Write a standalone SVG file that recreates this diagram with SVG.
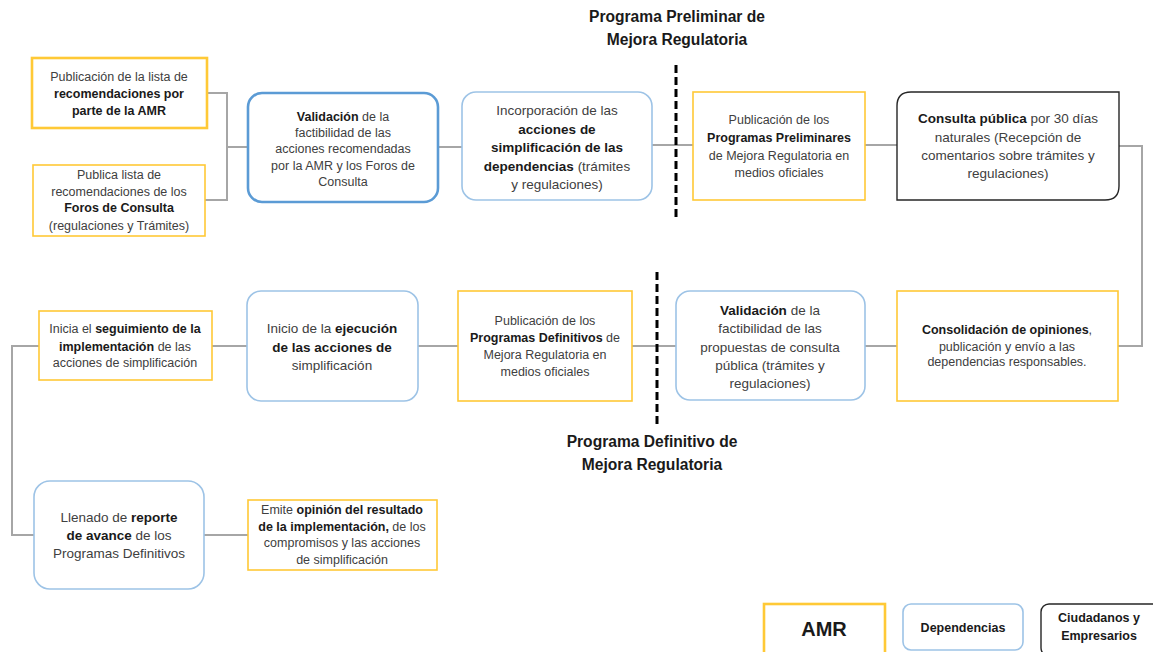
<svg xmlns="http://www.w3.org/2000/svg" width="1153" height="652" viewBox="0 0 1153 652">
<style>
text{font-family:"Liberation Sans",Arial,sans-serif;fill:#404040;text-anchor:middle}
.s{font-size:12.5px}
.m{font-size:13.5px}
b,.b{font-weight:bold;fill:#1a1a1a}
.t{font-size:15.6px;font-weight:bold;fill:#1a1a1a}
.y{fill:#fff;stroke:#FFC936;stroke-width:1.6}
.bl{fill:#fff;stroke:#9DC3E6;stroke-width:1.6}
.bk{fill:#fff;stroke:#262626;stroke-width:1.4}
.c{fill:none;stroke:#A6A6A6;stroke-width:2}
.d{stroke:#000;stroke-width:3;stroke-dasharray:8,4}
</style>
<rect width="1153" height="652" fill="#fff"/>
<g id="connectors">
<polyline class="c" points="207,93 227,93 227,200 205,200"/>
<line class="c" x1="227" y1="147" x2="248" y2="147"/>
<line class="c" x1="438" y1="147" x2="462" y2="147"/>
<line class="c" x1="652" y1="145" x2="693" y2="145"/>
<line class="c" x1="865" y1="145" x2="897" y2="145"/>
<polyline class="c" points="1119,146 1142,146 1142,346 1118,346"/>
<line class="c" x1="865" y1="346" x2="897" y2="346"/>
<line class="c" x1="632" y1="346" x2="676" y2="346"/>
<line class="c" x1="418" y1="346" x2="458" y2="346"/>
<line class="c" x1="212" y1="346" x2="247" y2="346"/>
<polyline class="c" points="39,346 12,346 12,535 34,535"/>
<line class="c" x1="204" y1="535" x2="248" y2="535"/>
</g>
<g id="divider-preliminar">
<line class="d" x1="676" y1="65" x2="676" y2="218"/>
<text class="t" x="677" y="22">Programa Preliminar de</text>
<text class="t" x="677" y="45">Mejora Regulatoria</text>
</g>
<g id="divider-definitivo">
<line class="d" x1="657" y1="272" x2="657" y2="428"/>
<text class="t" x="652" y="447">Programa Definitivo de</text>
<text class="t" x="652" y="470">Mejora Regulatoria</text>
</g>
<g id="n1">
<rect class="y" x="32" y="58" width="175" height="70" style="stroke-width:2.6"/>
<text class="s" x="119" y="81">Publicación de la lista de</text>
<text class="s b" x="119" y="98">recomendaciones por</text>
<text class="s b" x="119" y="115">parte de la AMR</text>
</g>
<g id="n2">
<rect class="y" x="33" y="165" width="172" height="71"/>
<text class="s" x="119" y="179">Publica lista de</text>
<text class="s" x="119" y="196">recomendaciones de los</text>
<text class="s b" x="119" y="212">Foros de Consulta</text>
<text class="s" x="119" y="230">(regulaciones y Trámites)</text>
</g>
<g id="n3">
<rect class="bl" x="248" y="93" width="190" height="109" rx="14" style="stroke:#5B9BD5;stroke-width:2.6"/>
<text class="s" x="343" y="121"><tspan class="b">Validación</tspan> de la</text>
<text class="s" x="343" y="137">factibilidad de las</text>
<text class="s" x="343" y="153">acciones recomendadas</text>
<text class="s" x="343" y="170">por la AMR y los Foros de</text>
<text class="s" x="343" y="186">Consulta</text>
</g>
<g id="n4">
<rect class="bl" x="462" y="92" width="190" height="108" rx="14"/>
<text class="m" x="557" y="115">Incorporación de las</text>
<text class="m b" x="557" y="134">acciones de</text>
<text class="m b" x="557" y="152">simplificación de las</text>
<text class="m" x="557" y="171"><tspan class="b">dependencias</tspan> (trámites</text>
<text class="m" x="557" y="189">y regulaciones)</text>
</g>
<g id="n5">
<rect class="y" x="693" y="92" width="172" height="108"/>
<text class="s" x="779" y="124">Publicación de los</text>
<text class="s b" x="779" y="142">Programas Preliminares</text>
<text class="s" x="779" y="160">de Mejora Regulatoria en</text>
<text class="s" x="779" y="177">medios oficiales</text>
</g>
<g id="n6">
<path class="bk" d="M911,92 H1119 V186 Q1119,200 1105,200 H897 V106 Q897,92 911,92 Z"/>
<text class="m" x="1008" y="123"><tspan class="b">Consulta pública</tspan>  por 30 días</text>
<text class="m" x="1008" y="142">naturales (Recepción de</text>
<text class="m" x="1008" y="160">comentarios sobre trámites y</text>
<text class="m" x="1008" y="178">regulaciones)</text>
</g>
<g id="n7">
<rect class="y" x="897" y="291" width="221" height="110"/>
<text class="s" x="1007" y="334"><tspan class="b">Consolidación de opiniones</tspan>,</text>
<text class="s" x="1007" y="351">publicación y envío a las</text>
<text class="s" x="1007" y="366">dependencias responsables.</text>
</g>
<g id="n8">
<rect class="bl" x="676" y="291" width="189" height="109" rx="14"/>
<text class="m" x="770" y="315"><tspan class="b">Validación</tspan> de la</text>
<text class="m" x="770" y="333">factibilidad de las</text>
<text class="m" x="770" y="352">propuestas de consulta</text>
<text class="m" x="770" y="370">pública (trámites y</text>
<text class="m" x="770" y="388">regulaciones)</text>
</g>
<g id="n9">
<rect class="y" x="458" y="291" width="174" height="110"/>
<text class="s" x="545" y="325">Publicación de los</text>
<text class="s" x="545" y="342"><tspan class="b">Programas Definitivos</tspan> de</text>
<text class="s" x="545" y="359">Mejora Regulatoria en</text>
<text class="s" x="545" y="376">medios oficiales</text>
</g>
<g id="n10">
<rect class="bl" x="247" y="291" width="171" height="110" rx="14"/>
<text class="m" x="332" y="333">Inicio de la <tspan class="b">ejecución</tspan></text>
<text class="m b" x="332" y="352">de las acciones de</text>
<text class="m" x="332" y="370">simplificación</text>
</g>
<g id="n11">
<rect class="y" x="39" y="311" width="173" height="69"/>
<text class="s" x="125" y="333">Inicia el <tspan class="b">seguimiento de la</tspan></text>
<text class="s" x="125" y="351"><tspan class="b">implementación</tspan> de las</text>
<text class="s" x="125" y="367">acciones de simplificación</text>
</g>
<g id="n12">
<rect class="bl" x="34" y="481" width="170" height="108" rx="16"/>
<text class="m" x="119" y="522">Llenado de <tspan class="b">reporte</tspan></text>
<text class="m" x="119" y="540"><tspan class="b">de avance</tspan> de los</text>
<text class="m" x="119" y="558">Programas Definitivos</text>
</g>
<g id="n13">
<rect class="y" x="248" y="500" width="189" height="70"/>
<text class="s" x="342" y="514">Emite <tspan class="b">opinión del resultado</tspan></text>
<text class="s" x="342" y="531"><tspan class="b">de la implementación,</tspan> de los</text>
<text class="s" x="342" y="547">compromisos y las acciones</text>
<text class="s" x="342" y="564">de simplificación</text>
</g>
<g id="legend-amr">
<rect class="y" x="764" y="604" width="121" height="52" style="stroke-width:2.6"/>
<text class="b" x="824" y="636" style="font-size:20px">AMR</text>
</g>
<g id="legend-dependencias">
<rect class="bl" x="903" y="604" width="120" height="46" rx="8"/>
<text class="s b" x="963" y="632">Dependencias</text>
</g>
<g id="legend-ciudadanos">
<rect class="bk" x="1041" y="604" width="120" height="52" rx="8"/>
<text class="s b" x="1099" y="622">Ciudadanos  y</text>
<text class="s b" x="1099" y="640">Empresarios</text>
</g>
</svg>
